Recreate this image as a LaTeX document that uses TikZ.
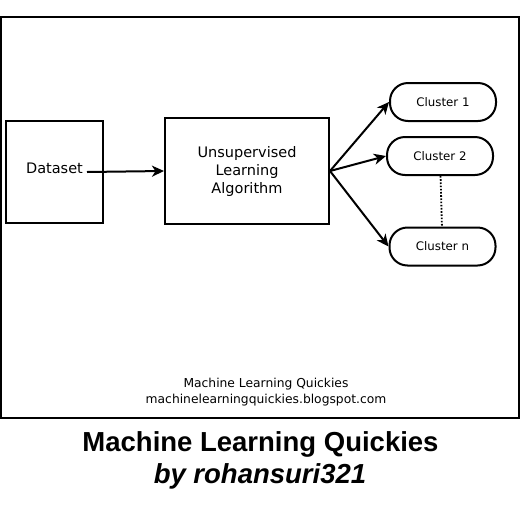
\documentclass[tikz,border=0pt]{standalone}
\usepackage{fontspec}
\setmainfont{DejaVu Sans}
\newfontfamily\titlefont{Liberation Sans}
\usetikzlibrary{arrows.meta}
\tikzset{box/.style={draw,line width=2pt,inner sep=0pt,font=\fontsize{14.5}{18}\selectfont}}
\tikzset{clu/.style={draw,line width=2pt,rounded corners=18pt,minimum width=106pt,minimum height=38pt,inner sep=0pt,font=\fontsize{11.8}{11.8}\selectfont}}
\tikzset{a/.style={-{Stealth[length=12pt,width=11pt,inset=3.5pt]},line width=2pt}}
\tikzset{dots/.style={line width=1.8pt,dash pattern=on 1.6pt off 1.6pt}}
\tikzset{ft/.style={font=\fontsize{12.3}{12.3}\selectfont}}
\tikzset{tt/.style={font=\titlefont\bfseries\fontsize{27.5}{27.5}\selectfont}}

\begin{document}
\begin{tikzpicture}[x=1pt,y=-1pt]
          \useasboundingbox (0,0) rectangle (520,520);
          \draw[line width=2pt] (1,17) rectangle (519,418);
          \node[clu] (C1) at (443,102) {Cluster 1};
          \node[clu] (C2) at (440,156) {Cluster 2};
          \node[clu] (Cn) at (442.5,246.5) {Cluster n};
          \draw[dots] (C2) -- (Cn);
          \node[box,minimum width=164pt,minimum height=106pt,align=center] (ULA) at (247,171) {Unsupervised\\Learning\\Algorithm};
          \draw (ULA.east) edge [a] (C1.west)
                           edge [a] (C2.west)
                           edge [a] (Cn.west);
          \node[box,minimum width=97pt,minimum height=102pt,text height=10pt,text depth=8pt] (DS) at (54.5,172) {Dataset};
          \coordinate (DSout) at (87,172);
          \draw[a] (DSout) -- (ULA.west);
          % footer inside the frame
          \node[ft,anchor=base] (FT1) at (266,387) {Machine Learning Quickies};
          \node[ft,anchor=base] (FT2) at (266,403) {machinelearningquickies.blogspot.com};
          % title below
          \node[tt,anchor=base] (T1) at (260.5,451) {Machine Learning Quickies};
          \node[tt,anchor=base] (T2) at (260,483) {\itshape by rohansuri321};
        \end{tikzpicture}
\end{document}
